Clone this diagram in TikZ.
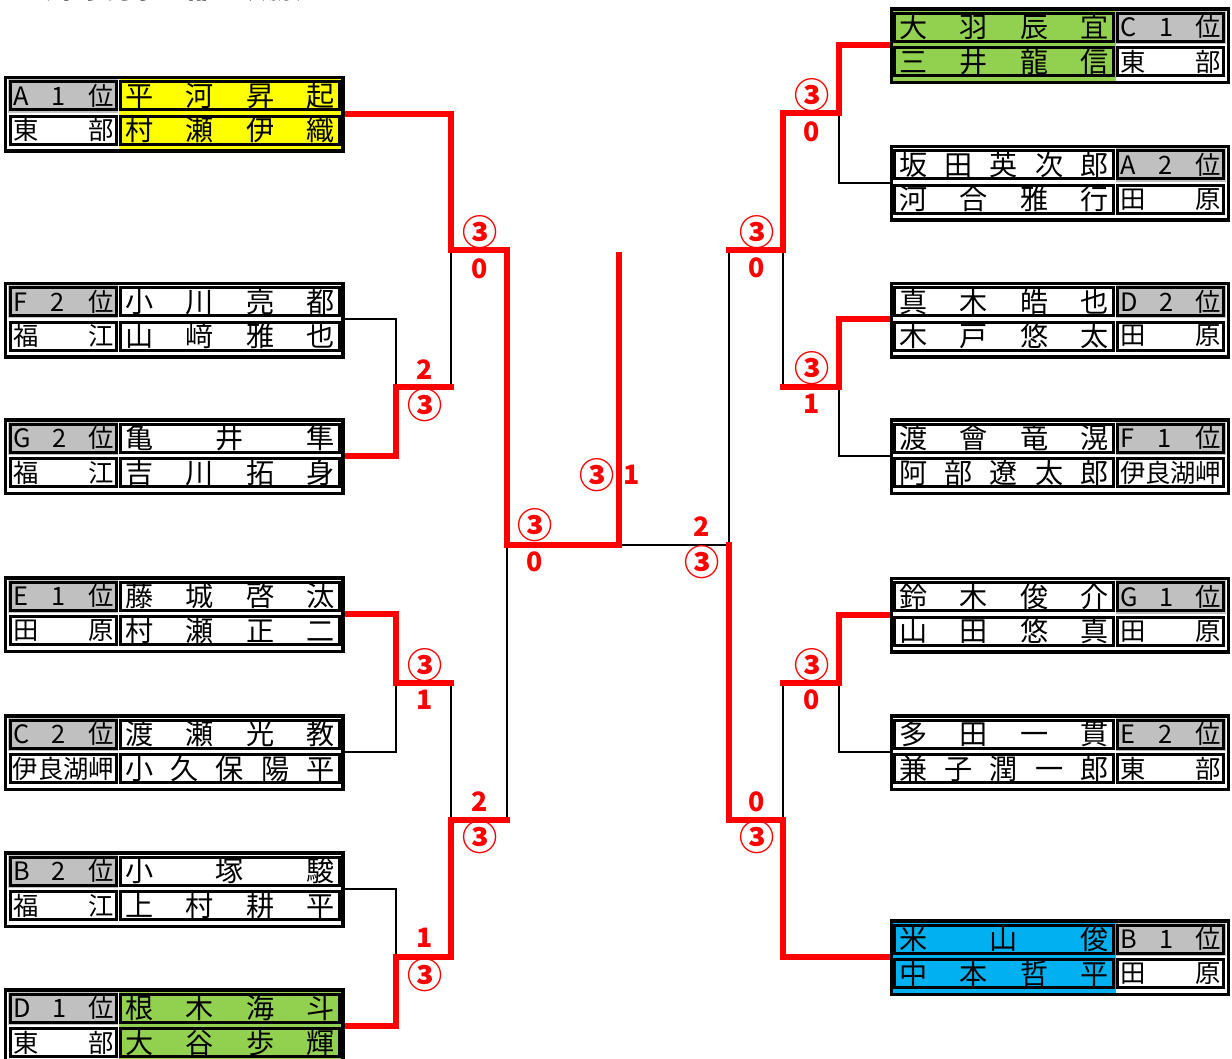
\documentclass[tikz,border=0pt]{standalone}
\usepackage{fontspec}
\setmainfont{Noto Sans CJK JP}
\usepackage{tikz}
\pgfdeclarelayer{background}
\pgfsetlayers{background,main}

\definecolor{seedgray}{RGB}{192,192,192}
\definecolor{winyellow}{RGB}{255,255,0}
\definecolor{wingreen}{RGB}{146,208,80}
\definecolor{winblue}{RGB}{0,176,240}

\tikzset{
  cell/.style={draw, line width=0.075cm, inner sep=0pt, minimum height=0.7cm},
  schoolcell/.style={cell, minimum width=2.64cm, font=\fontsize{18pt}{18pt}\selectfont},
  namecell/.style={cell, minimum width=5.46cm, font=\fontsize{20pt}{20pt}\selectfont},
  frame/.style={draw, line width=0.085cm},
  win/.style={red, line width=0.15cm, line cap=rect, line join=miter},
  lose/.style={black, line width=0.05cm},
  score/.style={red, inner sep=0pt, font=\bfseries\fontsize{19pt}{19pt}\selectfont},
}

\newcommand\maru{{\fontsize{25pt}{25pt}\selectfont ③}}

% #1 id, #2 side (0 left / 1 right), #3 top, #4 #5 school, #6 #7 names, #8 fill
\newcommand\entry[8]{%
  \ifnum#2=0
    \def\ox{5.5}\def\lx{63.35}\def\nx{230}\def\px{344.3}%
  \else
    \def\ox{891.2}\def\lx{1170.65}\def\nx{1004}\def\px{889.7}%
  \fi
  \fill[#8] (\nx-111.5,#3+1.5) rectangle (\nx+111.5,#3+72);
  \fill[seedgray] (\lx-55,#3+1.5) rectangle (\lx+55,#3+35);
  \draw[frame] (\ox,#3) rectangle ++(337.3,73.5);
  \node[schoolcell, fill=seedgray] (#1a) at (\lx,#3+18.25) {\makebox[2.5cm]{#4}};
  \node[schoolcell, fill=white] (#1b) at (\lx,#3+52.75) {\makebox[2.5cm]{#5}};
  \node[namecell, fill=#8] (#1n) at (\nx,#3+18.25) {\makebox[5.22cm]{#6}};
  \node[namecell, fill=#8] (#1m) at (\nx,#3+52.75) {\makebox[5.22cm]{#7}};
  \coordinate (p#1) at (\px,#3+36);
}

\begin{document}
\begin{tikzpicture}[x=0.025cm, y=-0.025cm]
  \useasboundingbox (0,0) rectangle (1232,1059);

  % title (cut by the page edge)
  \node[anchor=base west, font=\bfseries\fontsize{19pt}{19pt}\selectfont] (title) at (22,-1.5)
    {〈中学男子の部　決勝〉};

  % ── left block ──────────────────────────────────────────────
  \entry{A1}{0}{77.5}{A\hfill 1\hfill 位}{東\hfill 部}{平\hfill 河\hfill 昇\hfill 起}{村\hfill 瀬\hfill 伊\hfill 織}{winyellow}
  \entry{F2}{0}{283.3}{F\hfill 2\hfill 位}{福\hfill 江}{小\hfill 川\hfill 亮\hfill 都}{山\hfill 﨑\hfill 雅\hfill 也}{white}
  \entry{G2}{0}{420}{G\hfill 2\hfill 位}{福\hfill 江}{亀\hfill 井\hfill 隼}{吉\hfill 川\hfill 拓\hfill 身}{white}
  \entry{E1}{0}{578}{E\hfill 1\hfill 位}{田\hfill 原}{藤\hfill 城\hfill 啓\hfill 汰}{村\hfill 瀬\hfill 正\hfill 二}{white}
  \entry{C2}{0}{716}{C\hfill 2\hfill 位}{伊\hfill 良\hfill 湖\hfill 岬}{渡\hfill 瀬\hfill 光\hfill 教}{小\hfill 久\hfill 保\hfill 陽\hfill 平}{white}
  \entry{B2}{0}{853}{B\hfill 2\hfill 位}{福\hfill 江}{小\hfill 塚\hfill 駿}{上\hfill 村\hfill 耕\hfill 平}{white}
  \entry{D1}{0}{990}{D\hfill 1\hfill 位}{東\hfill 部}{根\hfill 木\hfill 海\hfill 斗}{大\hfill 谷\hfill 歩\hfill 輝}{wingreen}

  % ── right block ─────────────────────────────────────────────
  \entry{C1}{1}{9}{C\hfill 1\hfill 位}{東\hfill 部}{大\hfill 羽\hfill 辰\hfill 宜}{三\hfill 井\hfill 龍\hfill 信}{wingreen}
  \entry{A2}{1}{146.5}{A\hfill 2\hfill 位}{田\hfill 原}{坂\hfill 田\hfill 英\hfill 次\hfill 郎}{河\hfill 合\hfill 雅\hfill 行}{white}
  \entry{D2}{1}{283.3}{D\hfill 2\hfill 位}{田\hfill 原}{真\hfill 木\hfill 皓\hfill 也}{木\hfill 戸\hfill 悠\hfill 太}{white}
  \entry{F1}{1}{420}{F\hfill 1\hfill 位}{伊\hfill 良\hfill 湖\hfill 岬}{渡\hfill 會\hfill 竜\hfill 滉}{阿\hfill 部\hfill 遼\hfill 太\hfill 郎}{white}
  \entry{G1}{1}{578.5}{G\hfill 1\hfill 位}{田\hfill 原}{鈴\hfill 木\hfill 俊\hfill 介}{山\hfill 田\hfill 悠\hfill 真}{white}
  \entry{E2}{1}{716}{E\hfill 2\hfill 位}{東\hfill 部}{多\hfill 田\hfill 一\hfill 貫}{兼\hfill 子\hfill 潤\hfill 一\hfill 郎}{white}
  \entry{B1}{1}{921}{B\hfill 1\hfill 位}{田\hfill 原}{米\hfill 山\hfill 俊}{中\hfill 本\hfill 哲\hfill 平}{winblue}

  % ── bracket junctions ───────────────────────────────────────
  \coordinate (qF) at (396,387);
  \coordinate (qE) at (396,683);
  \coordinate (qB) at (396,957);
  \coordinate (sA) at (451,250);
  \coordinate (sE) at (451,820);
  \coordinate (hL) at (507,545);
  \coordinate (champ) at (619,255);
  \coordinate (qC) at (839,113);
  \coordinate (qD) at (839,387);
  \coordinate (qG) at (839,683);
  \coordinate (sC) at (783,250);
  \coordinate (sG) at (783,820);
  \coordinate (hR) at (729,545);

  \begin{pgfonlayer}{background}
    % lost matches
    \draw[lose] (pF2) -| (qF);
    \draw[lose] (pC2) -| (qE);
    \draw[lose] (pB2) -| (qB);
    \draw[lose] (qF -| sA) -- (sA);
    \draw[lose] (qE -| sA) -- (sE);
    \draw[lose] (sE -| hL) -- (hL);
    \draw[lose] (champ |- hL) -- (hR);
    \draw[lose] (pA2) -| (qC);
    \draw[lose] (pF1) -| (qD);
    \draw[lose] (pE2) -| (qG);
    \draw[lose] (qD -| sC) -- (sC);
    \draw[lose] (qG -| sC) -- (sG);
    \draw[lose] (sC -| hR) -- (hR);

    % winners
    \draw[win] (pA1) -| (sA) -- (sA -| hL) -- (hL) -- (champ |- hL) -- (champ);
    \draw[win] (pG2) -| (qF) -- (qF -| sA);
    \draw[win] (pE1) -| (qE) -- (qE -| sA);
    \draw[win] (pD1) -| (qB) -- (qB -| sA) -- (sE) -- (sE -| hL);
    \draw[win] (pC1) -| (qC) -- (qC -| sC) -- (sC) -- (sC -| hR);
    \draw[win] (pD2) -| (qD) -- (qD -| sC);
    \draw[win] (pG1) -| (qG) -- (qG -| sC);
    \draw[win] (pB1) -| (sG) -- (sG -| hR) -- (hR);
  \end{pgfonlayer}

  % ── set scores ──────────────────────────────────────────────
  \foreach \x/\y/\t [count=\k] in {
      480/232/\maru, 480/269/0, 425/370/2, 425/405/\maru,
      425/665/\maru, 425/700/1, 480/802/2, 480/837/\maru,
      425/938/1, 425/975/\maru, 535/525/\maru, 535/562/0,
      597/475/\maru, 632/475/1, 702/527/2, 702/562/\maru,
      812/95/\maru, 812/132/0, 757/232/\maru, 757/268/0,
      812/368/\maru, 812/404/1, 812/665/\maru, 812/700/0,
      757/802/0, 757/837/\maru}
    \node[score] (s\k) at (\x,\y) {\t};

\end{tikzpicture}
\end{document}
